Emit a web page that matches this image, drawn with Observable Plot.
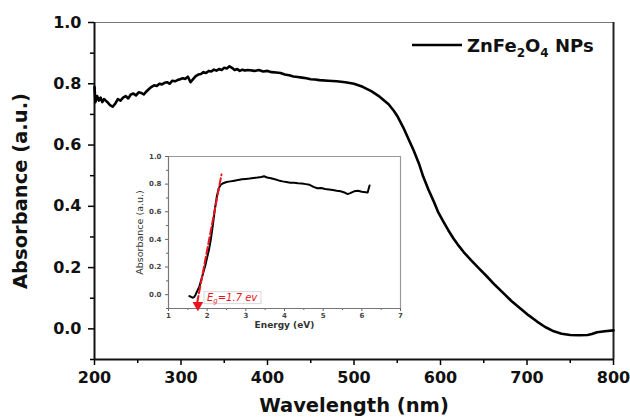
<!DOCTYPE html>
<html><head><meta charset="utf-8">
<script src="https://cdn.jsdelivr.net/npm/d3@7"></script>
<script src="https://cdn.jsdelivr.net/npm/@observablehq/plot@0.6"></script>
<style>
body{margin:0;background:#fff}
#wrap{position:relative;width:630px;height:417px;overflow:hidden}
#inset{position:absolute;left:130px;top:145px}
svg{font-family:"DejaVu Sans",sans-serif}
</style>
</head><body><div id="wrap"><div id="main"></div><div id="inset"></div></div>
<script>
// ---- main spectrum (wavelength nm, absorbance a.u.)
const wavelength = [200,201,203,205,207,209,211,213,215,218,221,224,227,230,233,236,239,242,245,248,251,254,257,260,263,266,269,272,275,278,281,284,287,290,293,296,299,302,305,308,311,314,317,320,323,326,329,332,335,338,341,344,347,350,353,356,359,362,365,368,371,374,377,380,385,390,395,400,405,410,415,420,425,430,435,440,445,450,455,460,470,480,490,500,510,520,530,540,546,550,557,563,569,575,580,586,592,597,603,609,615,620,627,635,645,654,663,673,682,692,702,712,721,731,740,750,760,770,775,781,790,800];
const absorbance = [0.79,0.74,0.76,0.745,0.755,0.74,0.75,0.745,0.74,0.73,0.725,0.735,0.75,0.745,0.755,0.76,0.752,0.765,0.768,0.762,0.772,0.77,0.765,0.775,0.783,0.79,0.795,0.793,0.80,0.798,0.803,0.805,0.80,0.81,0.808,0.812,0.815,0.818,0.816,0.823,0.805,0.815,0.825,0.83,0.832,0.838,0.835,0.842,0.84,0.846,0.843,0.848,0.845,0.852,0.85,0.857,0.852,0.845,0.848,0.842,0.846,0.843,0.845,0.844,0.842,0.845,0.84,0.842,0.838,0.837,0.835,0.83,0.828,0.824,0.822,0.82,0.818,0.815,0.814,0.812,0.81,0.808,0.805,0.80,0.79,0.776,0.757,0.733,0.712,0.695,0.657,0.62,0.582,0.54,0.497,0.455,0.417,0.383,0.352,0.322,0.295,0.275,0.25,0.225,0.196,0.17,0.143,0.116,0.091,0.067,0.044,0.023,0.006,-0.008,-0.016,-0.02,-0.021,-0.02,-0.017,-0.011,-0.008,-0.005];

// ---- inset (energy eV, absorbance a.u.)
const energy = [1.54,1.58,1.62,1.66,1.70,1.75,1.80,1.85,1.90,1.95,2.00,2.05,2.10,2.15,2.20,2.25,2.30,2.35,2.40,2.50,2.60,2.70,2.80,2.90,3.00,3.10,3.20,3.30,3.40,3.47,3.55,3.65,3.75,3.85,3.95,4.05,4.15,4.25,4.35,4.45,4.55,4.65,4.75,4.85,4.95,5.05,5.15,5.25,5.35,5.45,5.55,5.63,5.70,5.80,5.90,6.00,6.10,6.15,6.20];
const insetAbs = [-0.01,-0.015,-0.022,-0.018,0.0,0.03,0.06,0.11,0.16,0.21,0.27,0.33,0.41,0.51,0.62,0.71,0.77,0.795,0.805,0.815,0.82,0.825,0.83,0.835,0.838,0.84,0.845,0.848,0.852,0.857,0.848,0.843,0.835,0.827,0.82,0.815,0.81,0.81,0.806,0.805,0.80,0.795,0.78,0.77,0.772,0.765,0.762,0.758,0.752,0.748,0.74,0.728,0.735,0.748,0.752,0.745,0.742,0.74,0.79];
const fitEnergy = [1.74, 2.37];
const fitAbs = [-0.06, 0.87];
const egArrow = [{e: 1.76, a: -0.075}];
const egLabel = {e: 1.93, a: -0.025, sym: "E", sub: "g", rest: "=1.7 ev"};

// ---- ticks & labels
const xTicks = [200,300,400,500,600,700,800];
const xMinor = [250,350,450,550,650,750];
const yTicks = [0,0.2,0.4,0.6,0.8,1.0];
const yMinor = [-0.1,0.1,0.3,0.5,0.7,0.9];
const insetXTicks = [1,2,3,4,5,6,7];
const insetXMinor = [1.5,2.5,3.5,4.5,5.5,6.5];
const insetYTicks = [0,0.2,0.4,0.6,0.8,1.0];
const insetYMinor = [-0.1,0.1,0.3,0.5,0.7,0.9];
const xLabel = "Wavelength (nm)";
const yLabel = "Absorbance (a.u.)";
const insetXLabel = "Energy (eV)";
const insetYLabel = "Absorbance (a.u.)";
const legendParts = [["ZnFe",0],["2",1],["O",0],["4",1],[" NPs",0]];

const mainData = wavelength.map((w,i) => ({w, a: absorbance[i]}));
const insetData = energy.map((e,i) => ({e, a: insetAbs[i]}));
const fitData = fitEnergy.map((e,i) => ({e, a: fitAbs[i]}));
const fmt = d3.format(".1f");
const fmtInt = d3.format("d");

function legendMark(index, scales, values, dims) {
  const g = d3.create("svg:g");
  const right = dims.width - dims.marginRight;
  const y = dims.marginTop + 23;
  g.append("line").attr("x1", right - 201).attr("x2", right - 151)
    .attr("y1", y).attr("y2", y).attr("stroke", "#000").attr("stroke-width", 2.5);
  const t = g.append("text").attr("x", right - 146).attr("y", y + 7)
    .attr("text-anchor", "start")
    .attr("font-size", 18).attr("font-weight", "bold").attr("fill", "#111");
  let shifted = false;
  for (const [s, sub] of legendParts) {
    const ts = t.append("tspan").text(s);
    if (sub && !shifted) { ts.attr("dy", 5).attr("font-size", 12); shifted = true; }
    else if (sub) { ts.attr("font-size", 12); }
    else if (shifted) { ts.attr("dy", -5); shifted = false; }
  }
  return g.node();
}

const main = Plot.plot({
  width: 630, height: 417,
  marginLeft: 94, marginRight: 17, marginTop: 22, marginBottom: 58,
  x: {domain: [200, 800]},
  y: {domain: [-0.1, 1.0]},
  style: {fontFamily: "DejaVu Sans", background: "#fff"},
  marks: [
    Plot.ruleY([1.0], {stroke: "#777", strokeWidth: 1}),
    Plot.ruleX([800], {stroke: "#222", strokeWidth: 2}),
    Plot.axisX({ticks: xMinor, tickSize: 4, tickFormat: () => "", strokeWidth: 1.5, label: null}),
    Plot.axisX({ticks: xTicks, tickSize: 6, tickPadding: 6, fontSize: 16, fontWeight: "bold", tickFormat: fmtInt, strokeWidth: 1.5, label: null, fill: "#111"}),
    Plot.axisY({ticks: yMinor, tickSize: 4, tickFormat: () => "", strokeWidth: 1.5, label: null}),
    Plot.axisY({ticks: yTicks, tickSize: 6, tickPadding: 7, fontSize: 16, fontWeight: "bold", tickFormat: fmt, strokeWidth: 1.5, label: null, fill: "#111"}),
    Plot.ruleX([200], {stroke: "#111", strokeWidth: 2}),
    Plot.ruleY([-0.1], {stroke: "#111", strokeWidth: 2}),
    Plot.line(mainData, {x: "w", y: "a", stroke: "#000", strokeWidth: 2.6, curve: "linear"}),
    Plot.text([xLabel], {text: d => d, frameAnchor: "bottom", lineAnchor: "middle", dy: 46, fontSize: 19.5, fontWeight: "bold", fill: "#111"}),
    Plot.text([yLabel], {text: d => d, frameAnchor: "left", textAnchor: "middle", lineAnchor: "middle", dx: -74, rotate: -90, fontSize: 19.5, fontWeight: "bold", fill: "#111"}),
    legendMark
  ]
});
document.getElementById("main").append(main);

function egMark(index, scales) {
  const g = d3.create("svg:g");
  const x = scales.x(egLabel.e), y = scales.y(egLabel.a);
  g.append("rect").attr("x", x).attr("y", y - 6).attr("width", 57).attr("height", 12)
    .attr("fill", "#fff").attr("stroke", "#d8d8d8");
  const t = g.append("text").attr("x", x + 3).attr("y", y + 3.5)
    .attr("text-anchor", "start")
    .attr("fill", "#e8141e").attr("font-style", "italic").attr("font-size", 10);
  t.append("tspan").text(egLabel.sym);
  t.append("tspan").text(egLabel.sub).attr("dy", 2).attr("font-size", 7);
  t.append("tspan").text(egLabel.rest).attr("dy", -2);
  return g.node();
}

const inset = Plot.plot({
  width: 278, height: 188,
  marginLeft: 38, marginRight: 8, marginTop: 11, marginBottom: 25,
  x: {domain: [1, 7]},
  y: {domain: [-0.1, 1.0]},
  style: {fontFamily: "DejaVu Sans", background: "#fff"},
  marks: [
    Plot.ruleY([1.0], {stroke: "#999", strokeWidth: 1}),
    Plot.ruleX([7], {stroke: "#999", strokeWidth: 1.2}),
    Plot.axisX({ticks: insetXMinor, tickSize: 2, tickFormat: () => "", stroke: "#666", label: null}),
    Plot.axisX({ticks: insetXTicks, tickSize: 3, tickPadding: 2, fontSize: 7, fontWeight: "bold", tickFormat: fmtInt, stroke: "#666", fill: "#444", label: null}),
    Plot.axisY({ticks: insetYMinor, tickSize: 2, tickFormat: () => "", stroke: "#666", label: null}),
    Plot.axisY({ticks: insetYTicks, tickSize: 3, tickPadding: 4, fontSize: 7, fontWeight: "bold", tickFormat: fmt, stroke: "#666", fill: "#444", label: null}),
    Plot.ruleX([1], {stroke: "#777", strokeWidth: 1.2}),
    Plot.ruleY([-0.1], {stroke: "#777", strokeWidth: 1.2}),
    Plot.line(insetData, {x: "e", y: "a", stroke: "#000", strokeWidth: 2}),
    Plot.line(fitData, {x: "e", y: "a", stroke: "#e8141e", strokeWidth: 2, strokeDasharray: "7,3"}),
    Plot.dot(egArrow, {x: "e", y: "a", symbol: "triangle", rotate: 180, r: 4, fill: "#e8141e", stroke: "none"}),
    Plot.text([insetXLabel], {text: d => d, frameAnchor: "bottom", lineAnchor: "middle", dy: 17, fontSize: 9, fontWeight: "bold", fill: "#333"}),
    Plot.text([insetYLabel], {text: d => d, frameAnchor: "left", textAnchor: "middle", lineAnchor: "middle", dx: -29, rotate: -90, fontSize: 9.5, fill: "#333"}),
    egMark
  ]
});
document.getElementById("inset").append(inset);
</script>
</body></html>
